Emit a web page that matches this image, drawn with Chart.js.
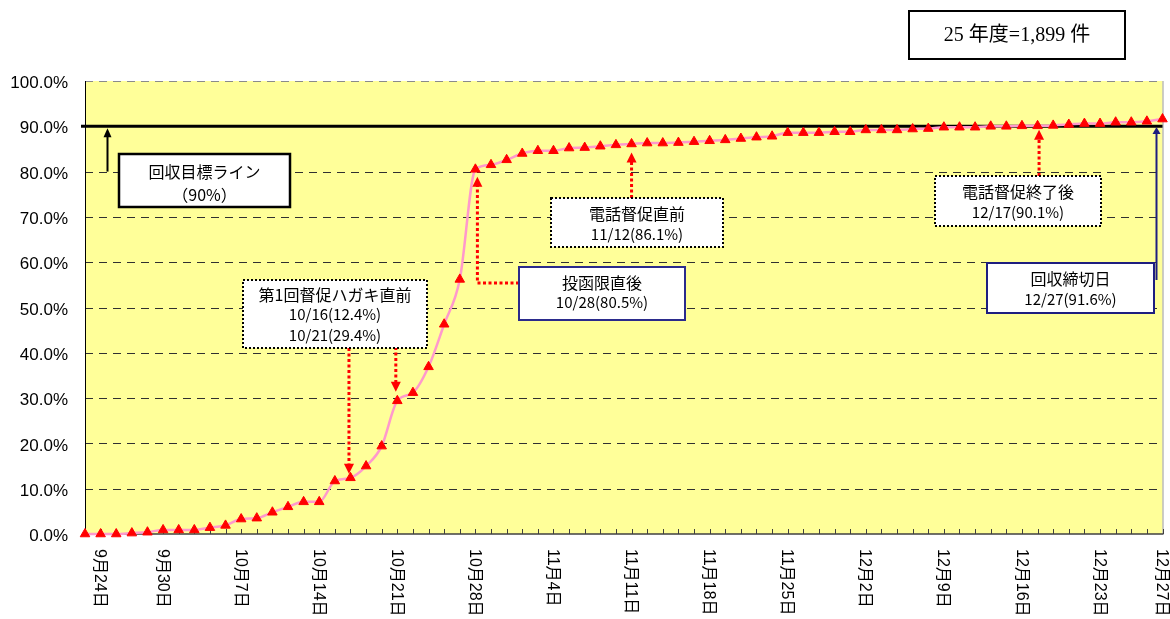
<!DOCTYPE html>
<html>
<head>
<meta charset="utf-8">
<script src="https://cdn.jsdelivr.net/npm/chart.js@4.4.1/dist/chart.umd.min.js"></script>
<style>
  html, body { margin: 0; padding: 0; background: #ffffff; }
  #wrap { position: relative; width: 1170px; height: 619px; }
  canvas { display: block; }
</style>
</head>
<body>
<div id="wrap"><canvas id="chart" width="1170" height="619"></canvas></div>
<script>
// Business days on the category axis
const categories = [
  '9月24日','9月25日','9月26日','9月27日','9月28日',
  '9月30日','10月1日','10月2日','10月3日','10月4日',
  '10月7日','10月8日','10月9日','10月10日','10月11日',
  '10月14日','10月15日','10月16日','10月17日','10月18日',
  '10月21日','10月22日','10月23日','10月24日','10月25日',
  '10月28日','10月29日','10月30日','10月31日','11月1日',
  '11月4日','11月5日','11月6日','11月7日','11月8日',
  '11月11日','11月12日','11月13日','11月14日','11月15日',
  '11月18日','11月19日','11月20日','11月21日','11月22日',
  '11月25日','11月26日','11月27日','11月28日','11月29日',
  '12月2日','12月3日','12月4日','12月5日','12月6日',
  '12月9日','12月10日','12月11日','12月12日','12月13日',
  '12月16日','12月17日','12月18日','12月19日','12月20日',
  '12月23日','12月24日','12月25日','12月26日','12月27日'
];

// Dates printed under the axis
const axisLabelDates = [
  '9月24日','9月30日','10月7日','10月14日','10月21日','10月28日','11月4日',
  '11月11日','11月18日','11月25日','12月2日','12月9日','12月16日','12月23日','12月27日'
];

// Cumulative collection rate (%)
const collectionRate = [
  0.0, 0.0, 0.0, 0.2, 0.4,
  0.9, 0.9, 0.9, 1.4, 1.9,
  3.3, 3.5, 4.8, 6.0, 7.1,
  7.1, 11.7, 12.4, 15.0, 19.4,
  29.4, 31.2, 36.9, 46.3, 56.2,
  80.5, 81.5, 82.6, 84.0, 84.6,
  84.6, 85.2, 85.3, 85.6, 85.9,
  86.1, 86.3, 86.3, 86.4, 86.6,
  86.8, 87.0, 87.3, 87.6, 87.8,
  88.6, 88.6, 88.6, 88.8, 88.8,
  89.2, 89.2, 89.2, 89.4, 89.5,
  89.8, 89.8, 89.8, 90.0, 90.0,
  90.1, 90.1, 90.2, 90.4, 90.6,
  90.6, 90.9, 90.9, 91.1, 91.6
];

const targetRate = 90;
const targetFrom = 80;
const yTickValues = [0, 10, 20, 30, 40, 50, 60, 70, 80, 90, 100];
const fiscalNote = '25 年度=1,899 件';

// Callout boxes (pixel layout) and the points their arrows refer to
const callouts = [
  { lines: ['回収目標ライン', '（90%）'], box: { x: 119, y: 154, w: 171, h: 53 },
    frame: 'solid', frameColor: '#000000', frameWidth: 2.5, lineY: [18, 41] },
  { lines: ['第1回督促ハガキ直前', '10/16(12.4%)', '10/21(29.4%)'], box: { x: 243, y: 280, w: 184, h: 68 },
    frame: 'dotted', frameColor: '#000000', frameWidth: 2, lineY: [15, 34, 55] },
  { lines: ['投函限直後', '10/28(80.5%)'], box: { x: 519, y: 267, w: 166, h: 53 },
    frame: 'solid', frameColor: '#2B2B8C', frameWidth: 2, lineY: [16, 35] },
  { lines: ['電話督促直前', '11/12(86.1%)'], box: { x: 551, y: 198, w: 172, h: 49 },
    frame: 'dotted', frameColor: '#000000', frameWidth: 2, lineY: [16, 36] },
  { lines: ['電話督促終了後', '12/17(90.1%)'], box: { x: 935, y: 176, w: 166, h: 50 },
    frame: 'dotted', frameColor: '#000000', frameWidth: 2, lineY: [16, 36] },
  { lines: ['回収締切日', '12/27(91.6%)'], box: { x: 987, y: 263, w: 167, h: 50 },
    frame: 'solid', frameColor: '#1E1E80', frameWidth: 2, lineY: [16, 36] }
];

// Arrows: index = data point, dir = 'down' from box bottom / 'up' from box top / 'elbow' from box left
const pointers = [
  { index: 17, dx: -1.5, dir: 'down', fromY: 348, gap: 4 },
  { index: 20, dx: -1.5, dir: 'down', fromY: 347, gap: 9 },
  { index: 25, dx: 2, dir: 'elbow', fromX: 519, fromY: 283, gap: 7.5 },
  { index: 35, dx: 0, dir: 'up', fromY: 198, gap: 8.5 },
  { index: 61, dx: 1.5, dir: 'up', fromY: 176, gap: 4 }
];
const deadlinePointer = { index: 69, dx: -6, fromY: 280, gap: 8 };

const JP = '"Noto Sans CJK JP", "Liberation Sans", sans-serif';

function arrowHead(ctx, x, y, dir, w, h, color) {
  ctx.save();
  ctx.setLineDash([]);
  ctx.fillStyle = color;
  ctx.beginPath();
  if (dir === 'down') {
    ctx.moveTo(x, y); ctx.lineTo(x - w / 2, y - h); ctx.lineTo(x + w / 2, y - h);
  } else {
    ctx.moveTo(x, y); ctx.lineTo(x - w / 2, y + h); ctx.lineTo(x + w / 2, y + h);
  }
  ctx.closePath();
  ctx.fill();
  ctx.restore();
}

const chartDecor = {
  id: 'chartDecor',
  beforeDatasetsDraw(chart) {
    const { ctx, chartArea: a, scales: { x, y } } = chart;
    ctx.save();
    // plot background
    ctx.fillStyle = '#FFFF99';
    ctx.fillRect(a.left, a.top, a.right - a.left, a.bottom - a.top);

    // dashed horizontal grid
    ctx.lineWidth = 1;
    ctx.setLineDash([8, 6]);
    yTickValues.forEach(v => {
      if (v === 0) return;
      const py = Math.round(y.getPixelForValue(v)) + 0.5;
      ctx.strokeStyle = v === 100 ? '#8a8a8a' : '#303030';
      ctx.beginPath(); ctx.moveTo(a.left, py); ctx.lineTo(a.right, py); ctx.stroke();
    });
    ctx.setLineDash([]);

    // right edge
    ctx.strokeStyle = '#9a9a9a';
    ctx.beginPath(); ctx.moveTo(a.right + 0.5, a.top); ctx.lineTo(a.right + 0.5, a.bottom); ctx.stroke();

    // left axis
    ctx.strokeStyle = '#000000';
    ctx.beginPath(); ctx.moveTo(a.left + 0.5, a.top); ctx.lineTo(a.left + 0.5, a.bottom); ctx.stroke();

    // bottom axis with inner tick marks
    ctx.strokeStyle = '#404040';
    ctx.lineWidth = 1.5;
    ctx.beginPath(); ctx.moveTo(a.left, a.bottom); ctx.lineTo(a.right + 1, a.bottom); ctx.stroke();
    ctx.lineWidth = 1;
    categories.forEach((c, i) => {
      const px = Math.round(x.getPixelForValue(i)) + 0.5;
      ctx.beginPath(); ctx.moveTo(px, a.bottom); ctx.lineTo(px, a.bottom - 5); ctx.stroke();
    });

    // target line
    const ty = y.getPixelForValue(targetRate);
    ctx.strokeStyle = '#000000';
    ctx.lineWidth = 3;
    ctx.beginPath(); ctx.moveTo(a.left - 4, ty); ctx.lineTo(a.right, ty); ctx.stroke();
    ctx.restore();
  },
  afterDatasetsDraw(chart) {
    const { ctx, chartArea: a, scales: { x, y } } = chart;
    ctx.save();

    // target arrow
    const ax = a.left + 22.5;
    ctx.strokeStyle = '#000000';
    ctx.lineWidth = 2;
    ctx.beginPath();
    ctx.moveTo(ax, y.getPixelForValue(targetFrom));
    ctx.lineTo(ax, y.getPixelForValue(targetRate) + 8);
    ctx.stroke();
    arrowHead(ctx, ax, y.getPixelForValue(targetRate) + 2, 'up', 8, 9, '#000000');

    // red dotted pointers
    ctx.strokeStyle = '#FF0000';
    ctx.lineWidth = 3;
    pointers.forEach(p => {
      const px = x.getPixelForValue(p.index) + p.dx;
      const py = y.getPixelForValue(collectionRate[p.index]);
      ctx.setLineDash([3, 2.5]);
      ctx.beginPath();
      if (p.dir === 'down') {
        const tip = py - p.gap;
        ctx.moveTo(px, p.fromY); ctx.lineTo(px, tip - 8);
        ctx.stroke();
        arrowHead(ctx, px, tip, 'down', 10, 10, '#FF0000');
      } else if (p.dir === 'up') {
        const tip = py + p.gap;
        ctx.moveTo(px, p.fromY); ctx.lineTo(px, tip + 8);
        ctx.stroke();
        arrowHead(ctx, px, tip, 'up', 10, 10, '#FF0000');
      } else {
        const tip = py + p.gap;
        ctx.moveTo(p.fromX, p.fromY); ctx.lineTo(px, p.fromY); ctx.lineTo(px, tip + 8);
        ctx.stroke();
        arrowHead(ctx, px, tip, 'up', 10, 10, '#FF0000');
      }
    });
    ctx.setLineDash([]);

    // deadline pointer
    const dx = x.getPixelForValue(deadlinePointer.index) + deadlinePointer.dx;
    const dtip = y.getPixelForValue(collectionRate[deadlinePointer.index]) + deadlinePointer.gap;
    ctx.strokeStyle = '#1E1E80';
    ctx.lineWidth = 2;
    ctx.beginPath(); ctx.moveTo(dx, deadlinePointer.fromY); ctx.lineTo(dx, dtip + 5); ctx.stroke();
    arrowHead(ctx, dx, dtip, 'up', 8, 7, '#1E1E80');

    // callout boxes
    callouts.forEach(c => {
      const b = c.box;
      ctx.fillStyle = '#ffffff';
      ctx.fillRect(b.x, b.y, b.w, b.h);
      ctx.strokeStyle = c.frameColor;
      ctx.lineWidth = c.frameWidth;
      ctx.setLineDash(c.frame === 'dotted' ? [2, 2] : []);
      ctx.strokeRect(b.x, b.y, b.w, b.h);
      ctx.setLineDash([]);
      ctx.fillStyle = '#000000';
      ctx.textAlign = 'center';
      ctx.textBaseline = 'middle';
      c.lines.forEach((t, i) => {
        const isNum = /^[0-9]/.test(t);
        ctx.font = (isNum ? '15px ' : '16px ') + JP;
        ctx.fillText(t, b.x + b.w / 2, b.y + c.lineY[i]);
      });
    });

    // x-axis date labels, written top-to-bottom
    ctx.fillStyle = '#000000';
    ctx.font = '16px "Liberation Sans", "Noto Sans CJK JP", sans-serif';
    ctx.textAlign = 'left';
    ctx.textBaseline = 'middle';
    axisLabelDates.forEach(d => {
      const i = categories.indexOf(d);
      const px = Math.max(x.getPixelForValue(i) - 1, a.left + 14);
      ctx.save();
      ctx.translate(px, a.bottom + 15);
      ctx.rotate(Math.PI / 2);
      ctx.fillText(d, 0, 0);
      ctx.restore();
    });

    // note box at the top right
    ctx.fillStyle = '#ffffff';
    ctx.fillRect(909, 11, 216, 48);
    ctx.strokeStyle = '#000000';
    ctx.lineWidth = 2;
    ctx.strokeRect(909, 11, 216, 48);
    ctx.fillStyle = '#000000';
    ctx.font = '20px "Liberation Serif", "Noto Sans CJK JP", serif';
    ctx.textAlign = 'center';
    ctx.fillText(fiscalNote, 1017, 36);
    ctx.restore();
  }
};

new Chart(document.getElementById('chart'), {
  type: 'line',
  data: {
    labels: categories,
    datasets: [{
      data: collectionRate,
      borderColor: '#FF99CC',
      borderWidth: 2.5,
      cubicInterpolationMode: 'monotone',
      pointStyle: 'triangle',
      pointRadius: 5.5,
      pointBackgroundColor: '#FF0000',
      pointBorderColor: '#FF0000',
      pointBorderWidth: 1,
      fill: false,
      clip: false
    }]
  },
  options: {
    responsive: false,
    animation: false,
    events: [],
    layout: { padding: { top: 81, right: 7.5, left: 0, bottom: 0 } },
    plugins: { legend: { display: false }, tooltip: { enabled: false } },
    scales: {
      x: {
        type: 'category',
        offset: false,
        grid: { display: false, drawTicks: false },
        border: { display: false },
        ticks: { display: false },
        afterFit(s) { s.height = 85; }
      },
      y: {
        min: 0,
        max: 100,
        afterBuildTicks(s) { s.ticks = yTickValues.map(v => ({ value: v })); },
        grid: { display: false, drawTicks: false },
        border: { display: false },
        ticks: {
          callback: v => v.toFixed(1) + '%',
          font: { family: '"Liberation Sans", Arial, sans-serif', size: 17 },
          color: '#000000',
          padding: 17,
          labelOffset: 2.5
        },
        afterFit(s) { s.width = 85; }
      }
    }
  },
  plugins: [chartDecor]
});
</script>
</body>
</html>
